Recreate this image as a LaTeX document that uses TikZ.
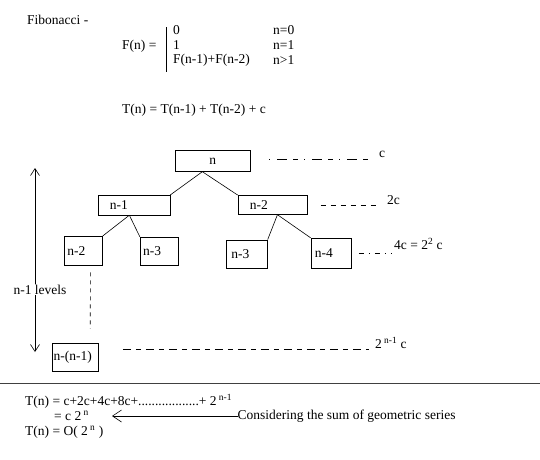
\documentclass[tikz,border=0pt]{standalone}
\usepackage{fontspec}
\setmainfont{Liberation Serif}
\usetikzlibrary{positioning, arrows.meta}

\begin{document}
\begin{tikzpicture}[
  x=1pt, y=-1pt,
  font=\fontsize{13.5}{15}\selectfont,
  txt/.style={anchor=west, inner sep=0pt},
  treebox/.style={draw, line width=0.7pt, anchor=north west, align=left,
                  inner ysep=0pt},
  edge/.style={line width=0.6pt},
  lvl/.style={line width=0.6pt, dash pattern=on 6pt off 5pt},
  vdash/.style={line width=0.6pt, dash pattern=on 4pt off 4pt},
  levels/.style={line width=0.6pt,
                 {Straight Barb[length=7pt, width=9pt]}-{Straight Barb[length=7pt, width=9pt]}},
  notearr/.style={line width=0.6pt, -{Straight Barb[length=9pt, width=12pt]}}
]
\useasboundingbox (0,0) rectangle (540,459);

% Definition of the recurrence
\node[txt] (fib) at (27,20) {Fibonacci -};
\node[txt] (fn) at (122,46) {F(n) =};
\coordinate (barT) at (166,27);
\coordinate (barB) at (166,72);
\draw[line width=0.7pt] (barT) -- (barB);
\node[txt] (c0) at (173,30) {0};
\node[txt] (c1) at (173,45) {1};
\node[txt] (c2) at (173,60) {F(n-1)+F(n-2)};
\node[txt] (k0) at (273,30) {n=0};
\node[txt] (k1) at (273,45) {n=1};
\node[txt] (k2) at (273,60) {n>1};
\node[txt] (rec) at (122,110) {T(n) = T(n-1) + T(n-2) + c};

% Recursion tree
\node[treebox, align=center, inner xsep=3pt, text width=69pt, minimum height=21pt] (n) at (175,150) {n};
\node[treebox, inner xsep=12pt, text width=48pt, minimum height=19.5pt] (n1) at (97.5,195) {n-1};
\node[treebox, inner xsep=12pt, text width=45pt, minimum height=19pt] (n2) at (237.6,195) {n-2};
\node[treebox, inner xsep=3pt, text width=32pt, minimum height=28.6pt] (n1a) at (64,236) {n-2};
\node[treebox, inner xsep=3pt, text width=32pt, minimum height=28.6pt] (n1b) at (139.8,236.7) {n-3};
\node[treebox, inner xsep=5pt, text width=31pt, minimum height=28.2pt] (n2a) at (226,239.5) {n-3};
\node[treebox, inner xsep=4pt, text width=32.6pt, minimum height=30pt] (n2b) at (310.6,237.8) {n-4};
\node[treebox, inner xsep=1.5pt, text width=43.4pt, minimum height=27.8pt] (nlast) at (51.7,342.7) {n-(n-1)};

% Edges
\draw[edge] ([xshift=-10.5pt]n.south) -- (n1.north east);
\draw[edge] ([xshift=-10.5pt]n.south) -- (n2.north west);
\draw[edge] ([xshift=-4.5pt]n1.south) -- (n1a.north east);
\draw[edge] ([xshift=-4.5pt]n1.south) -- (n1b.north west);
\draw[edge] ([xshift=5pt]n2.south) -- (n2a.north east);
\draw[edge] ([xshift=5pt]n2.south) -- (n2b.north west);
\draw[vdash] ([xshift=7pt, yshift=-7pt]n1a.south) -- ([xshift=15pt, yshift=14pt]nlast.north);

% Cost per level
\draw[lvl, dash pattern=on 1pt off 7pt on 10pt off 6pt on 5pt off 6pt]
  ([xshift=18.6pt, yshift=2pt]n.east) -- ++(101,0);
\node[txt] (lc) at (379,154) {c};
\draw[lvl, dash pattern=on 5pt off 5pt] ([xshift=13.5pt]n2.east) -- ++(59,0);
\node[txt] (l2c) at (387,200) {2c};
\draw[lvl, dash pattern=on 5pt off 5pt on 1pt off 5pt] ([xshift=7pt]n2b.east) -- ++(33,0);
\node[txt] (l4c) at (394,244) {4c = 2\textsuperscript{2} c};
\draw[lvl, dash pattern=on 8pt off 5pt on 5pt off 5pt] ([xshift=24pt, yshift=7.5pt]nlast.east) -- ++(246.5,0);
\node[txt] (lnc) at (375,343) {2\,\textsuperscript{n-1} c};

% Depth of the tree
\coordinate (depthT) at (35,168);
\coordinate (depthB) at (35,352);
\draw[levels] (depthT) -- node[pos=0.66, xshift=5pt, fill=white, inner sep=1pt] (depth) {n-1 levels} (depthB);

% Sum of the levels
\coordinate (ruleL) at (0,383);
\coordinate (ruleR) at (540,383);
\draw[line width=0.8pt, black!75] (ruleL) -- (ruleR);
\node[txt] (sum1) at (25,401) {T(n) = c+2c+4c+8c+..................+ 2\,\textsuperscript{n-1}};
\node[txt] (sum2) at (54,415.5) {= c 2\,\textsuperscript{n}};
\node[txt] (sum3) at (25,432) {T(n) = O( 2\,\textsuperscript{n} )};
\node[txt] (note) at (237.5,416) {Considering the sum of geometric series};
\coordinate (tip) at (112,416);
\draw[notearr] (note.west) -- (tip);
\end{tikzpicture}
\end{document}
